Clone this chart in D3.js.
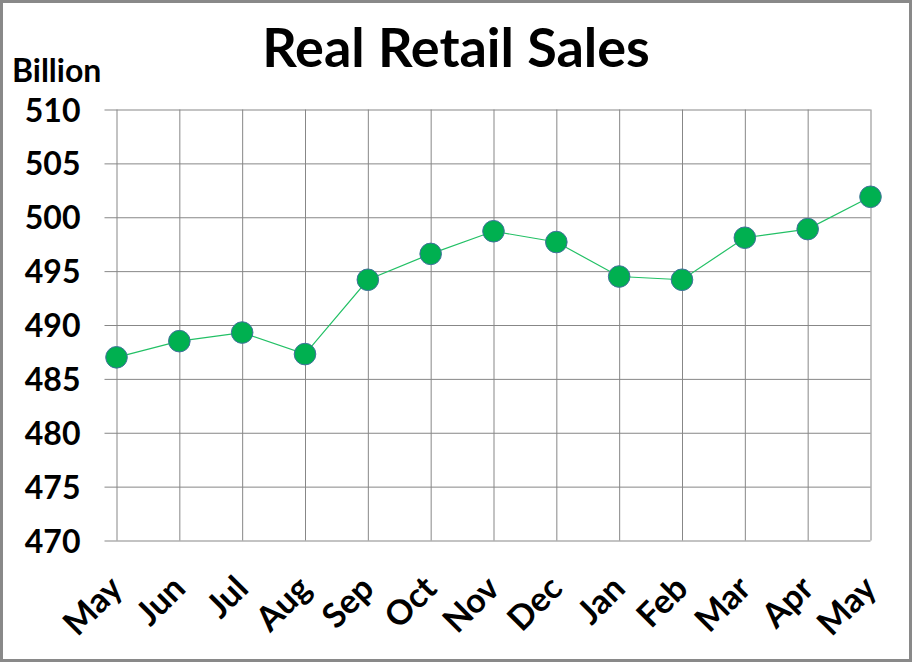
<!DOCTYPE html>
<html>
<head>
<meta charset="utf-8">
<script src="https://cdn.jsdelivr.net/npm/d3@7"></script>
<style>
  body { margin: 0; background: #fff; }
  text { font-family: Lato, "Open Sans", sans-serif; font-weight: 700; fill: #000; }
</style>
</head>
<body>
<svg id="chart" width="912" height="662"></svg>
<script>
// months along the bottom
var months = ["May", "Jun", "Jul", "Aug", "Sep", "Oct", "Nov", "Dec", "Jan", "Feb", "Mar", "Apr", "May"];
// real retail sales, billions
var sales = [487.0, 488.5, 489.3, 487.3, 494.2, 496.6, 498.7, 497.7, 494.5, 494.2, 498.1, 498.9, 501.9];
var yTicks = [470, 475, 480, 485, 490, 495, 500, 505, 510];

var svg = d3.select("#chart");
var margin = {top: 109.5, left: 116.5, right: 41.5, bottom: 121.5};
var width = 912 - margin.left - margin.right;
var height = 662 - margin.top - margin.bottom;

// outer frame
svg.append("rect")
    .attr("x", 1.5).attr("y", 1.5)
    .attr("width", 909).attr("height", 659)
    .attr("fill", "#fff")
    .attr("stroke", "#898989")
    .attr("stroke-width", 3);

svg.append("text")
    .attr("x", 456).attr("y", 67)
    .attr("text-anchor", "middle")
    .style("font-size", "54px")
    .text("Real Retail Sales");

svg.append("text")
    .attr("x", 12).attr("y", 82)
    .style("font-size", "32px")
    .text("Billion");

var g = svg.append("g").attr("transform", "translate(" + margin.left + "," + margin.top + ")");

// x is a point scale, one tick per month (keyed by index since May repeats)
var x = d3.scalePoint().domain(d3.range(months.length)).range([0, width]);
var y = d3.scaleLinear().domain([470, 510]).range([height, 0]);

// horizontal grid + left stubs
g.append("g")
    .attr("class", "axis axis--y")
    .call(d3.axisLeft(y).tickValues(yTicks).tickSize(-width - 12).tickFormat(d3.format("d")))
    .call(function(a) {
        a.select(".domain").remove();
        a.selectAll(".tick line").attr("x1", -12).attr("x2", width).attr("stroke", "#878787");
        a.selectAll(".tick text").style("font-size", "32px").attr("dy", "0.36em").attr("x", -36);
    });

// vertical grid
g.append("g")
    .attr("class", "axis axis--x")
    .attr("transform", "translate(0," + height + ")")
    .call(d3.axisBottom(x).tickSize(-height).tickFormat(""))
    .call(function(a) {
        a.select(".domain").remove();
        a.selectAll(".tick line").attr("stroke", "#878787");
    });

// rotated month labels
g.selectAll(".month")
    .data(months)
    .enter().append("text")
    .attr("class", "month")
    .attr("text-anchor", "end")
    .attr("transform", function(d, i) { return "translate(" + (x(i) + 8) + "," + (height + 50) + ") rotate(-45)"; })
    .style("font-size", "34px")
    .text(function(d) { return d; });

var line = d3.line()
    .x(function(d, i) { return x(i); })
    .y(function(d) { return y(d); });

g.append("path")
    .datum(sales)
    .attr("fill", "none")
    .attr("stroke", "#22c065")
    .attr("stroke-width", 1.2)
    .attr("d", line);

g.selectAll(".dot")
    .data(sales)
    .enter().append("circle")
    .attr("class", "dot")
    .attr("cx", function(d, i) { return x(i); })
    .attr("cy", function(d) { return y(d); })
    .attr("r", 10.8)
    .attr("fill", "#00b050")
    .attr("stroke", "#41719c")
    .attr("stroke-width", 1);
</script>
</body>
</html>
